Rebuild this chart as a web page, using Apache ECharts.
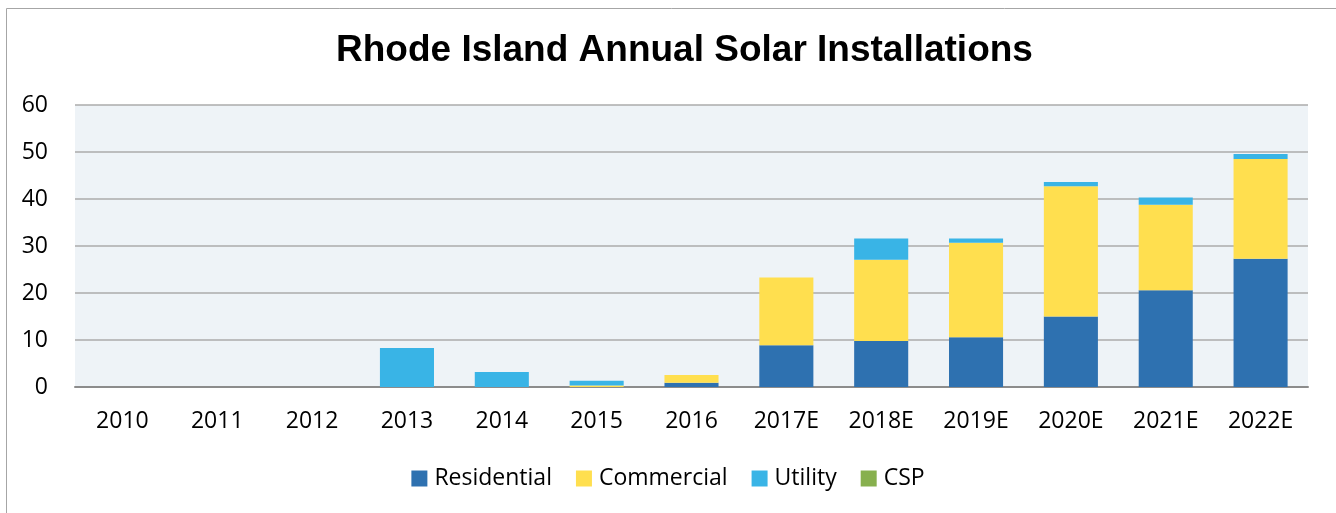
<!DOCTYPE html>
<html>
<head>
<meta charset="utf-8">
<script src="https://cdn.jsdelivr.net/npm/echarts@6/dist/echarts.min.js"></script>
<style>
  html, body { margin: 0; padding: 0; background: #fff; }
  #chart { width: 1336px; height: 513px; }
</style>
</head>
<body>
<div id="chart"></div>
<script>
const years = ['2010', '2011', '2012', '2013', '2014', '2015', '2016', '2017E', '2018E', '2019E', '2020E', '2021E', '2022E']
const residential = [0, 0, 0, 0, 0, 0, 0.9, 8.9, 9.8, 10.6, 15.0, 20.6, 27.3]
const commercial = [0, 0, 0, 0, 0, 0.3, 1.65, 14.4, 17.3, 20.1, 27.7, 18.2, 21.2]
const utility = [0, 0, 0, 8.3, 3.2, 1.05, 0, 0, 4.5, 0.9, 0.9, 1.5, 1.1]
const csp = [0, 0, 0, 0, 0, 0, 0, 0, 0, 0, 0, 0, 0]

const colors = ['#2E71B0', '#FFDF4F', '#39B4E6', '#87B04E']
const font = '"Open Sans", "Noto Sans", sans-serif'

let chart = echarts.init(document.getElementById('chart'))

function barSeries(name, data) {
    return {
        name: name,
        type: 'bar',
        stack: 'total',
        data: data,
        barWidth: '57%'
    }
}

chart.setOption({
    color: colors,
    animation: false,
    title: {
        text: 'Rhode Island Annual Solar Installations',
        left: 331,
        top: 27,
        textStyle: {
            fontFamily: 'Liberation Sans, Arial, sans-serif',
            fontSize: 37,
            fontWeight: 'bold',
            color: '#000'
        }
    },
    graphic: [{
        type: 'rect',
        shape: { x: 6.5, y: 8.5, width: 1340, height: 520 },
        style: { fill: 'none', stroke: '#A6A6A6', lineWidth: 1 },
        z: -10
    }],
    legend: {
        bottom: 18,
        left: 'center',
        itemWidth: 16,
        itemHeight: 16,
        itemGap: 24,
        icon: 'rect',
        textStyle: { fontFamily: font, fontSize: 23, color: '#000', padding: [0, 0, 0, 2] },
        data: ['Residential', 'Commercial', 'Utility', 'CSP']
    },
    grid: {
        left: 75,
        right: 28,
        top: 105,
        bottom: 126,
        show: true,
        backgroundColor: '#EEF3F7',
        borderWidth: 0
    },
    xAxis: {
        type: 'category',
        data: years,
        axisTick: { show: false },
        axisLine: { lineStyle: { color: '#8C8C8C', width: 2 } },
        axisLabel: { fontFamily: font, fontSize: 23, color: '#000', margin: 23 }
    },
    yAxis: {
        type: 'value',
        min: 0,
        max: 60,
        interval: 10,
        axisLine: { show: false },
        axisTick: { show: false },
        splitLine: { lineStyle: { color: '#ABABAB', width: 1.5 } },
        axisLabel: { fontFamily: font, fontSize: 23, color: '#000', margin: 27 }
    },
    series: [
        barSeries('Residential', residential),
        barSeries('Commercial', commercial),
        barSeries('Utility', utility),
        barSeries('CSP', csp)
    ]
})
</script>
</body>
</html>
